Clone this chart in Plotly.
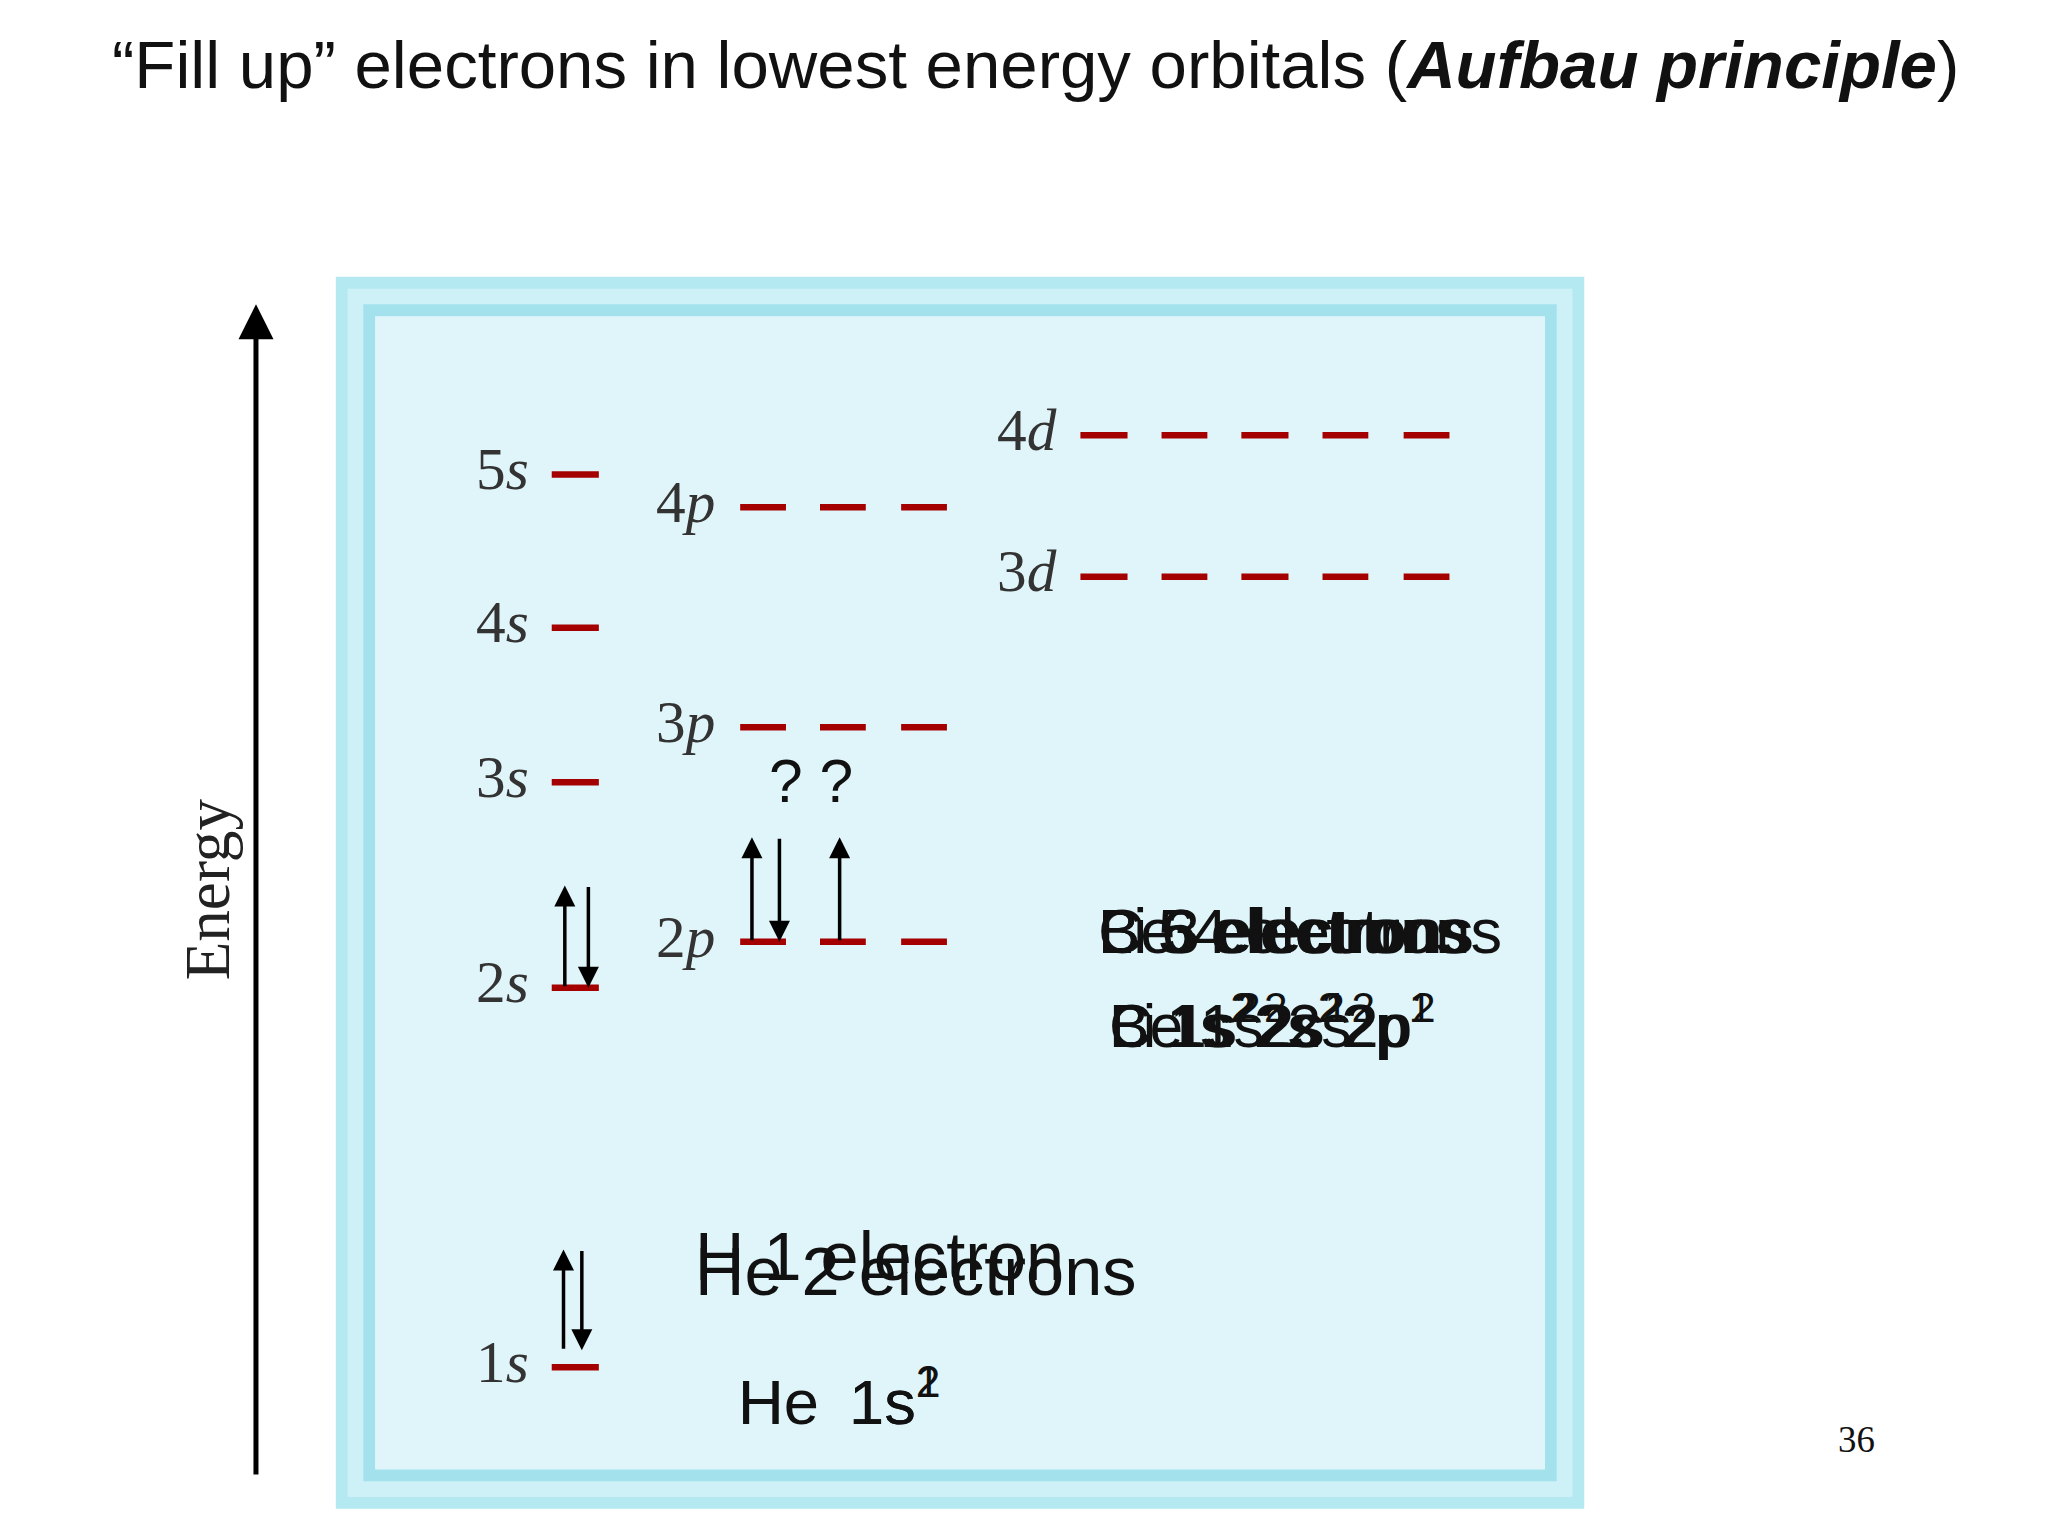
import plotly.graph_objects as go

S = 2048 / 1555  # display-to-real font scale

# orbital energy levels (vertical position on page coords)
s_labels = ["1s", "2s", "3s", "4s", "5s"]
s_levels = [1045, 755, 598, 480, 363]
p_labels = ["2p", "3p", "4p"]
p_levels = [720, 556, 388]
d_labels = ["3d", "4d"]
d_levels = [441, 333]

s_slots = [(422, 458)]
p_slots = [(566, 601), (627, 662), (689, 724)]
d_slots = [(826, 862), (888, 923), (949, 985), (1011, 1046), (1073, 1108)]

# electrons: (x, y_from, y_to)
electron_arrows = [
    (431, 1032, 955), (445, 955, 1032),
    (432, 755, 677), (450, 677, 755),
    (575, 720, 640), (596, 640, 720), (642, 720, 640),
]

fig = go.Figure()

fig.add_shape(type="rect", x0=257, x1=1211, y0=212, y1=1153, fillcolor="#b5e9f2", line=dict(width=0), layer="below")
fig.add_shape(type="rect", x0=266, x1=1202, y0=221, y1=1144, fillcolor="#cdf1f7", line=dict(width=0), layer="below")
fig.add_shape(type="rect", x0=278, x1=1190, y0=233, y1=1132, fillcolor="#a3e2ed", line=dict(width=0), layer="below")
fig.add_shape(type="rect", x0=287, x1=1181, y0=242, y1=1123, fillcolor="#e0f5fa", line=dict(width=0), layer="below")

def dashes(slots, levels):
    xs, ys = [], []
    for lv in levels:
        for a, b in slots:
            xs += [a, b, None]
            ys += [lv, lv, None]
    return xs, ys

for slots, levels in [(s_slots, s_levels), (p_slots, p_levels), (d_slots, d_levels)]:
    xs, ys = dashes(slots, levels)
    fig.add_trace(go.Scatter(x=xs, y=ys, mode="lines", line=dict(color="#a50000", width=6.5), hoverinfo="skip"))

def orb_label(lbl, x, y):
    fig.add_annotation(x=x, y=y, text=f"{lbl[0]}<i>{lbl[1]}</i>", showarrow=False, xanchor="right",
                       font=dict(family="Liberation Serif", size=45 * S, color="#333"))

for l, v in zip(s_labels, s_levels):
    orb_label(l, 406, v - 4)
for l, v in zip(p_labels, p_levels):
    orb_label(l, 548, v - 4)
for l, v in zip(d_labels, d_levels):
    orb_label(l, 810, v - 4)

for x, y0, y1 in electron_arrows:
    fig.add_annotation(x=x, y=y1, ax=x, ay=y0, xref="x", yref="y", axref="x", ayref="y", text="",
                       showarrow=True, arrowhead=2, arrowsize=1.2, arrowwidth=3.5, arrowcolor="black")

fig.add_annotation(x=196, y=233, ax=196, ay=1128, xref="x", yref="y", axref="x", ayref="y", text="",
                   showarrow=True, arrowhead=2, arrowsize=1.4, arrowwidth=5, arrowcolor="black")
fig.add_annotation(x=160, y=680, text="Energy", textangle=-90, showarrow=False,
                   font=dict(family="Liberation Serif", size=48 * S, color="#222"))

sans = "Liberation Sans"
texts = [
    ("? ?", 620, 597, 46, "middle"),
    ("Li 3 electrons", 838, 712, 48, "middle"), ("Be 4 electrons", 838, 712, 48, "middle"),
    ("B 5 electrons", 838, 712, 48, "middle"), ("C 6 electrons", 838, 712, 48, "middle"),
    ("Li 1s<sup>2</sup>2s<sup>1</sup>", 846, 812, 46, "bottom"), ("Be 1s<sup>2</sup>2s<sup>2</sup>", 846, 812, 46, "bottom"),
    ("B 1s<sup>2</sup>2s<sup>2</sup>2p<sup>1</sup>", 846, 812, 46, "bottom"), ("C 1s<sup>2</sup>2s<sup>2</sup>2p<sup>2</sup>", 846, 812, 46, "bottom"),
    ("H 1 electron", 530, 960, 52, "middle"), ("He 2 electrons", 530, 972, 52, "middle"),
    ("H", 563, 1100, 48, "bottom"), ("He", 563, 1100, 48, "bottom"),
    ("1s<sup>1</sup>", 648, 1100, 48, "bottom"), ("1s<sup>2</sup>", 648, 1100, 48, "bottom"),
]
for t, x, y, fs, ya in texts:
    fig.add_annotation(x=x, y=y, text=t, showarrow=False, xanchor="center" if t == "? ?" else "left",
                       yanchor=ya, font=dict(family=sans, size=fs * S, color="#111"))

fig.add_annotation(x=792, y=50, text="\u201cFill up\u201d electrons in lowest energy orbitals (<b><i>Aufbau principle</i></b>)",
                   showarrow=False, font=dict(family=sans, size=51 * S, color="#111"))
fig.add_annotation(x=1419, y=1100, text="36", showarrow=False,
                   font=dict(family="Liberation Serif", size=28 * S, color="#111"))

fig.update_layout(width=2048, height=1536, margin=dict(l=0, r=0, t=0, b=0), showlegend=False,
                  plot_bgcolor="white", paper_bgcolor="white",
                  xaxis=dict(range=[6.5, 1571.5], visible=False, fixedrange=True),
                  yaxis=dict(range=[1180, 6.6], visible=False, fixedrange=True))
fig.write_html("out.html")
